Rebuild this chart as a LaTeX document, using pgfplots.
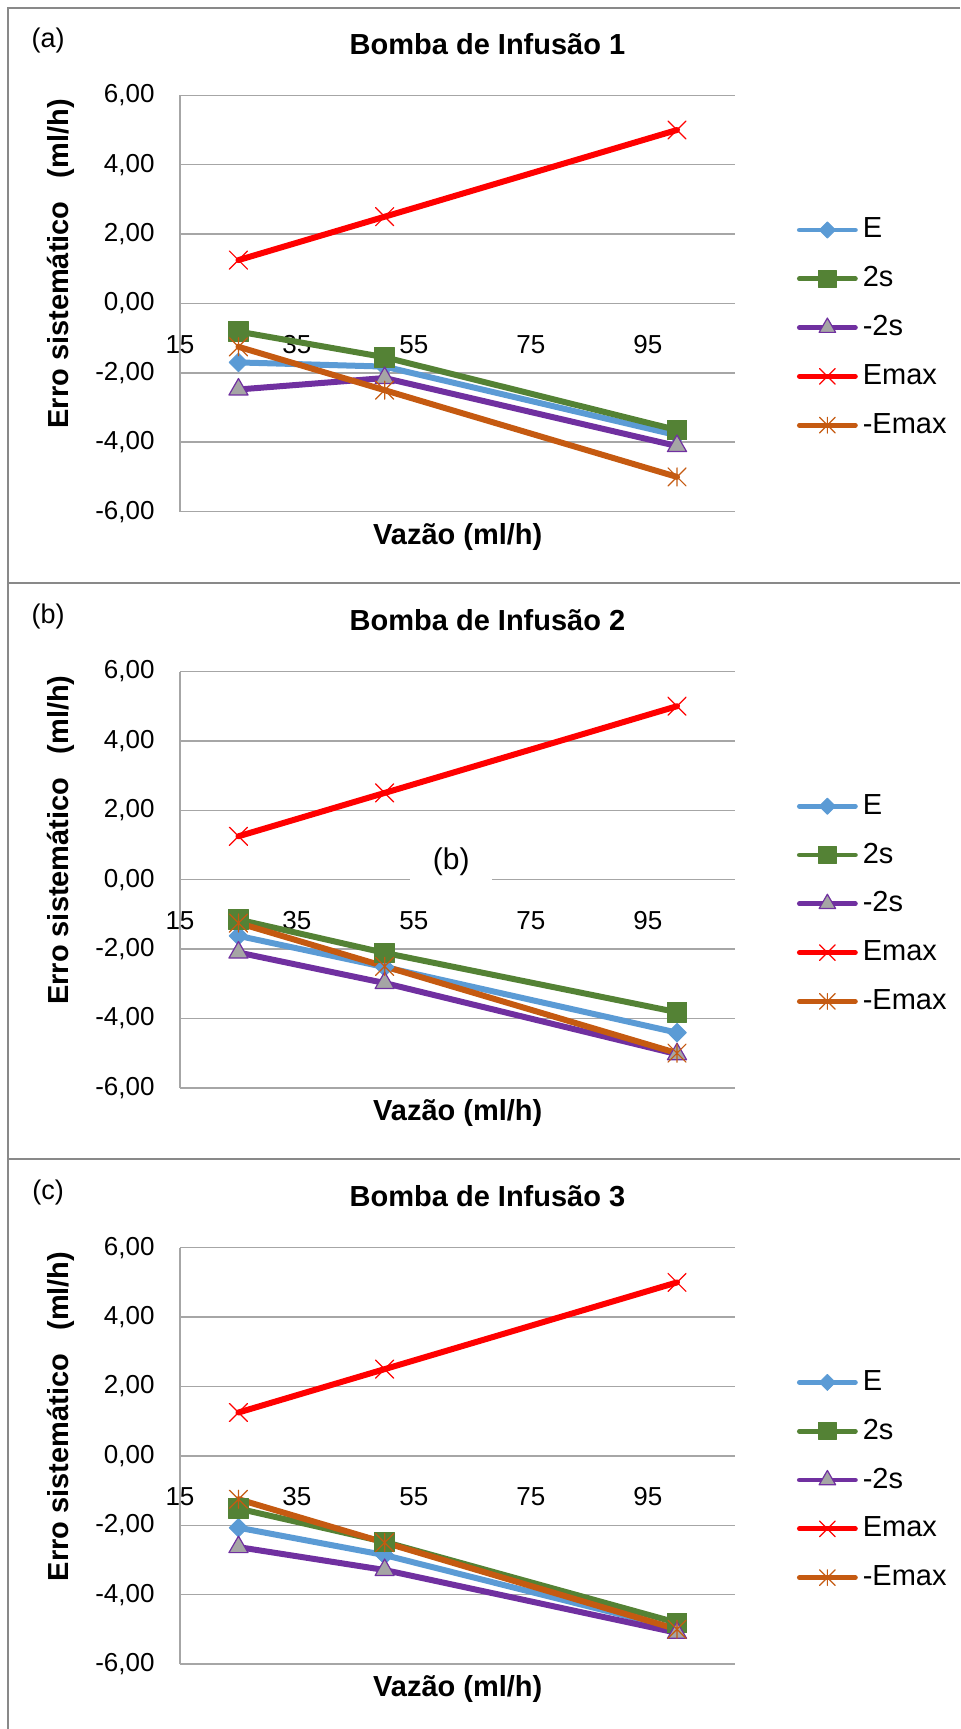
\documentclass[border=0pt]{standalone}
\usepackage{fontspec}
\setmainfont{Liberation Sans}
\usepackage{pgfplots}
\pgfplotsset{compat=1.18}

\definecolor{cE}{HTML}{5B9BD5}
\definecolor{cTwoS}{HTML}{548235}
\definecolor{cMinTwoS}{HTML}{7030A0}
\definecolor{cEmax}{HTML}{FF0000}
\definecolor{cMinEmax}{HTML}{C55A11}
\definecolor{triFill}{HTML}{A5A5A5}
\definecolor{gridGray}{HTML}{A6A6A6}
\definecolor{frameGray}{HTML}{898989}

% X with a vertical stroke, like the Excel star marker
\pgfdeclareplotmark{xstar}{%
  \pgfpathmoveto{\pgfqpoint{-.7071\pgfplotmarksize}{-.7071\pgfplotmarksize}}%
  \pgfpathlineto{\pgfqpoint{.7071\pgfplotmarksize}{.7071\pgfplotmarksize}}%
  \pgfpathmoveto{\pgfqpoint{-.7071\pgfplotmarksize}{.7071\pgfplotmarksize}}%
  \pgfpathlineto{\pgfqpoint{.7071\pgfplotmarksize}{-.7071\pgfplotmarksize}}%
  \pgfpathmoveto{\pgfqpoint{0pt}{-.7071\pgfplotmarksize}}%
  \pgfpathlineto{\pgfqpoint{0pt}{.7071\pgfplotmarksize}}%
  \pgfusepathqstroke}

\pgfplotsset{
  sE/.style={cE, line width=3pt, line join=round, line cap=round,
    mark=square*, mark size=3.3pt, mark options={solid, rotate=45, line width=0.4pt}},
  sTwoS/.style={cTwoS, line width=3pt, line join=round, line cap=round,
    mark=square*, mark size=4.9pt, mark options={solid, line width=0.4pt}},
  sMinTwoS/.style={cMinTwoS, line width=3pt, line join=round, line cap=round,
    mark=triangle*, mark size=5.5pt, mark options={solid, fill=triFill, draw=cMinTwoS, line width=0.6pt}},
  sEmax/.style={cEmax, line width=3pt, line join=round, line cap=round,
    mark=x, mark size=6.4pt, mark options={solid, line width=0.6pt}},
  sMinEmax/.style={cMinEmax, line width=3pt, line join=round, line cap=round,
    mark=xstar, mark size=6.4pt, mark options={solid, line width=0.6pt}},
  bomba/.style={
    scale only axis, width=277.75pt, height=208.15pt,
    anchor=south west, clip=false,
    xmin=15, xmax=110, ymin=-6, ymax=6,
    xtick={15,35,55,75,95}, ytick={-6,-4,...,6},
    axis x line*=middle, axis y line*=left,
    hide obscured x ticks=false,
    axis line style={draw=gridGray, line width=0.75pt},
    ymajorgrids, major grid style={draw=gridGray, line width=0.75pt},
    major tick length=0pt,
    /pgf/number format/assume math mode=true,
    tick label style={font=\fontsize{13}{15}\selectfont},
    yticklabel style={anchor=east, inner sep=0pt, xshift=-12.5pt,
      /pgf/number format/.cd, fixed, fixed zerofill, precision=2, use comma, /tikz/.cd},
    xticklabel style={anchor=center, inner sep=0pt, yshift=-20.4pt},
    every axis title shift=0pt,
    title style={at={(axis description cs:0.5536,1.1232)}, anchor=center,
      font=\bfseries\fontsize{14.5}{17}\selectfont},
    every axis x label/.style={at={(axis description cs:0.5,-0.060)}, anchor=center,
      font=\bfseries\fontsize{14.5}{17}\selectfont},
    every axis y label/.style={at={(axis description cs:-0.214,0.595)}, anchor=center,
      rotate=90, font=\bfseries\fontsize{14.5}{17}\selectfont},
    xlabel={Vazão (ml/h)},
    ylabel={Erro sistemático\hspace{0.8em}(ml/h)},
    legend cell align=left,
    legend image code/.code={%
      \draw[mark repeat=2, mark phase=2, #1, line width=2.4pt,
        every mark/.append style={scale=0.87}]
        plot coordinates {(0pt,0pt) (14pt,0pt) (28pt,0pt)};},
    legend style={at={(axis description cs:1.1107,0.442)}, anchor=west,
      draw=none, fill=none, inner sep=0pt, outer sep=0pt,
      font=\fontsize{14.5}{17}\selectfont, row sep=8.4pt, column sep=1.5pt,
      nodes={inner sep=1pt, text height=11pt, text depth=3pt}},
  }
}

\begin{document}
\begin{tikzpicture}
\useasboundingbox (0,0) rectangle (480pt,-864.5pt);

% panel frames
\draw[frameGray, line width=1pt] (480pt,-4.15pt) -- (3.75pt,-4.15pt) -- (3.75pt,-864.5pt);
\draw[frameGray, line width=1.25pt] (3.75pt,-291.5pt) -- (480pt,-291.5pt);
\draw[frameGray, line width=1.25pt] (3.75pt,-579.5pt) -- (480pt,-579.5pt);

% (a)
\begin{axis}[bomba, at={(90pt,-255.8pt)}, title={Bomba de Infusão 1}]
\addplot[sE] coordinates {(25,-1.70) (50,-1.82) (100,-3.80)};
\addplot[sTwoS] coordinates {(25,-0.81) (50,-1.55) (100,-3.65)};
\addplot[sMinTwoS] coordinates {(25,-2.48) (50,-2.15) (100,-4.11)};
\addplot[sEmax] coordinates {(25,1.25) (50,2.5) (100,5)};
\addplot[sMinEmax] coordinates {(25,-1.25) (50,-2.5) (100,-5)};
\legend{E,2s,-2s,Emax,-Emax}
\node[font=\fontsize{13.5}{16}\selectfont] at (axis description cs:-0.2376,1.1326) {(a)};
\end{axis}

% (b)
\begin{axis}[bomba, at={(90pt,-543.9pt)}, title={Bomba de Infusão 2}]
\addplot[sE] coordinates {(25,-1.62) (50,-2.52) (100,-4.41)};
\addplot[sTwoS] coordinates {(25,-1.15) (50,-2.11) (100,-3.82)};
\addplot[sMinTwoS] coordinates {(25,-2.10) (50,-2.98) (100,-5.03)};
\addplot[sEmax] coordinates {(25,1.25) (50,2.5) (100,5)};
\addplot[sMinEmax] coordinates {(25,-1.25) (50,-2.5) (100,-5)};
\legend{E,2s,-2s,Emax,-Emax}
\node[font=\fontsize{13.5}{16}\selectfont] at (axis description cs:-0.2376,1.1326) {(b)};
\node[fill=white, inner sep=0pt, minimum width=41pt, minimum height=20pt,
  font=\fontsize{15}{18}\selectfont, yshift=9pt] at (axis cs:61.4,0) {(b)};
\end{axis}

% (c)
\begin{axis}[bomba, at={(90pt,-832pt)}, title={Bomba de Infusão 3}]
\addplot[sE] coordinates {(25,-2.07) (50,-2.86) (100,-4.98)};
\addplot[sTwoS] coordinates {(25,-1.52) (50,-2.48) (100,-4.81)};
\addplot[sMinTwoS] coordinates {(25,-2.63) (50,-3.29) (100,-5.10)};
\addplot[sEmax] coordinates {(25,1.25) (50,2.5) (100,5)};
\addplot[sMinEmax] coordinates {(25,-1.25) (50,-2.5) (100,-5)};
\legend{E,2s,-2s,Emax,-Emax}
\node[font=\fontsize{13.5}{16}\selectfont] at (axis description cs:-0.2376,1.1326) {(c)};
\end{axis}
\end{tikzpicture}
\end{document}
